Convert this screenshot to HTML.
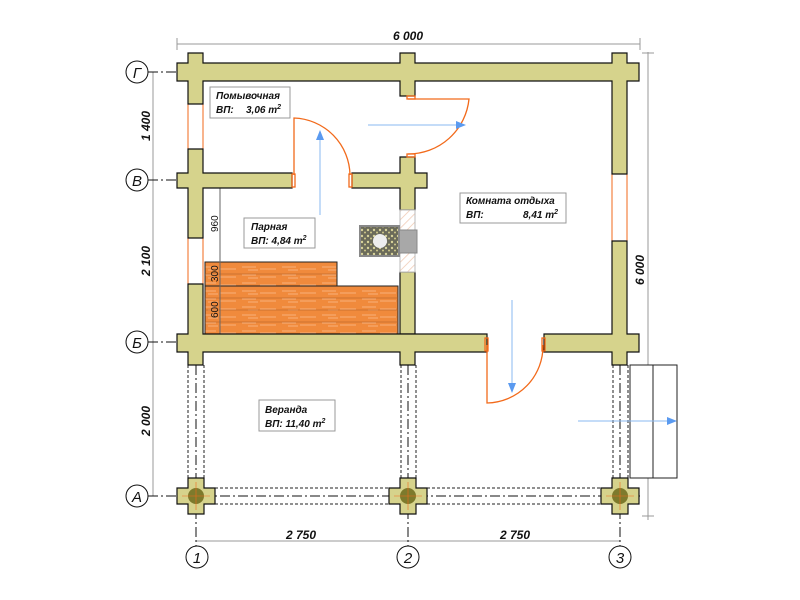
<!DOCTYPE html>
<html><head><meta charset="utf-8"><style>html,body{margin:0;padding:0;background:#fff}svg{display:block}</style></head><body>
<svg width="800" height="600" viewBox="0 0 800 600" xmlns="http://www.w3.org/2000/svg" font-family="Liberation Sans, sans-serif">
<defs>
<pattern id="wood" width="40" height="8" patternUnits="userSpaceOnUse"><rect width="40" height="8" fill="#f08a3c"/><path d="M2 3h14M20 5h16M8 6h10" stroke="#f8b07a" stroke-width="1"/></pattern>
<pattern id="hatch" width="6" height="6" patternUnits="userSpaceOnUse" patternTransform="rotate(45)"><rect width="6" height="6" fill="#fff"/><line x1="0" y1="0" x2="0" y2="6" stroke="#f0c8b0" stroke-width="1.5"/></pattern>
<pattern id="stone" width="6" height="6" patternUnits="userSpaceOnUse"><rect width="6" height="6" fill="#6b6b5a"/><circle cx="2" cy="2" r="1.2" fill="#d8d39a"/><circle cx="5" cy="4.5" r="1" fill="#cfc88a"/></pattern>
</defs>
<!-- dimension lines -->
<g stroke="#999" stroke-width="1" fill="none">
<line x1="177" y1="44" x2="640" y2="44"/><line x1="177" y1="38" x2="177" y2="50"/><line x1="640" y1="38" x2="640" y2="50"/>
<line x1="648" y1="52" x2="648" y2="520"/><line x1="642" y1="53" x2="654" y2="53"/><line x1="642" y1="516" x2="654" y2="516"/>
<line x1="153" y1="72" x2="153" y2="496"/>
<line x1="196" y1="541" x2="620" y2="541"/>
</g>
<g font-style="italic" font-weight="bold" font-size="12" fill="#111" text-anchor="middle">
<text x="408" y="40">6 000</text>
<text transform="translate(644,270) rotate(-90)">6 000</text>
<text transform="translate(150,126) rotate(-90)">1 400</text>
<text transform="translate(150,261) rotate(-90)">2 100</text>
<text transform="translate(150,421) rotate(-90)">2 000</text>
<text x="301" y="539">2 750</text>
<text x="515" y="539">2 750</text>
</g>
<!-- axis leaders -->
<g stroke="#111" stroke-width="1" stroke-dasharray="10,3,2,3">
<line x1="148" y1="72" x2="177" y2="72"/><line x1="148" y1="180" x2="177" y2="180"/><line x1="148" y1="342" x2="177" y2="342"/>
<line x1="148" y1="496" x2="640" y2="496"/>
<line x1="196" y1="365" x2="196" y2="546"/><line x1="408" y1="365" x2="408" y2="546"/><line x1="620" y1="365" x2="620" y2="546"/>
</g>
<g fill="#fff" stroke="#111" stroke-width="1"><circle cx="137" cy="72" r="11"/><circle cx="137" cy="180" r="11"/><circle cx="137" cy="342" r="11"/><circle cx="137" cy="496" r="11"/><circle cx="197" cy="557" r="11"/><circle cx="408" cy="557" r="11"/><circle cx="620" cy="557" r="11"/></g>
<g font-style="italic" font-size="15" fill="#111" text-anchor="middle">
<text x="137" y="78">Г</text><text x="137" y="186">В</text><text x="137" y="348">Б</text><text x="137" y="502">А</text>
<text x="197" y="563">1</text><text x="408" y="563">2</text><text x="620" y="563">3</text>
</g>
<!-- veranda rails -->
<g stroke="#222" stroke-width="1" stroke-dasharray="3,2" fill="none">
<line x1="188" y1="365" x2="188" y2="480"/><line x1="204" y1="365" x2="204" y2="480"/>
<line x1="401" y1="365" x2="401" y2="480"/><line x1="416" y1="365" x2="416" y2="480"/>
<line x1="613" y1="365" x2="613" y2="480"/><line x1="628" y1="365" x2="628" y2="480"/>
<line x1="215" y1="488" x2="390" y2="488"/><line x1="215" y1="504" x2="390" y2="504"/>
<line x1="427" y1="488" x2="602" y2="488"/><line x1="427" y1="504" x2="602" y2="504"/>
</g>
<!-- steps -->
<g stroke="#222" stroke-width="1" fill="#fff"><rect x="630" y="365" width="47" height="113"/><line x1="653" y1="365" x2="653" y2="478"/></g>
<!-- windows -->
<g stroke="#f26a1b" stroke-width="1" fill="#fff">
<rect x="188" y="104" width="15" height="45"/><rect x="188" y="238" width="15" height="46"/><rect x="612" y="174" width="15" height="67"/>
</g>
<!-- benches -->
<g stroke="#222" stroke-width="1">
<rect x="205" y="262" width="132" height="24" fill="url(#wood)"/>
<rect x="205" y="286" width="193" height="48" fill="url(#wood)"/>
<g stroke="#a85a25" stroke-width="0.6"><line x1="205" y1="274" x2="337" y2="274"/><line x1="205" y1="298" x2="398" y2="298"/><line x1="205" y1="310" x2="398" y2="310"/><line x1="205" y1="322" x2="398" y2="322"/></g>
</g>
<line x1="220" y1="188" x2="220" y2="334" stroke="#666" stroke-width="1"/>
<g font-size="10" fill="#111"><text transform="translate(218,232) rotate(-90)">960</text><text transform="translate(218,282) rotate(-90)">300</text><text transform="translate(218,318) rotate(-90)">600</text></g>
<!-- walls -->
<g fill="#d6d38c" stroke="#111" stroke-width="1.2">
<path d="M188 53H203V63H400V53H415V63H612V53H627V63H639V81H627V174H612V81H415V96H400V81H203V104H188V81H177V63H188Z"/>
<path d="M188 149H203V173H292V188H203V238H188V188H177V173H188Z"/>
<path d="M400 157H415V173H427V188H415V210H400V188H352V173H400Z"/>
<rect x="400" y="272" width="15" height="62"/>
<path d="M188 284H203V334H400V334H415V334H487V352H415V365H400V352H203V365H188V352H177V334H188Z"/>
<path d="M612 241H627V334H639V352H627V365H612V352H544V334H612Z"/>
<path d="M188 478H204V488H215V504H204V514H188V504H177V488H188Z"/>
<path d="M400 478H416V488H427V504H416V514H400V504H389V488H400Z"/>
<path d="M612 478H628V488H639V504H628V514H612V504H601V488H612Z"/>
</g>
<g fill="#7d7a2c"><circle cx="196" cy="496" r="8"/><circle cx="408" cy="496" r="8"/><circle cx="620" cy="496" r="8"/></g>
<g stroke="#f26a1b" stroke-width="0.6"><path d="M182 496h28M196 482v28M394 496h28M408 482v28M606 496h28M620 482v28"/></g>
<!-- stove -->
<rect x="400" y="210" width="15" height="62" fill="url(#hatch)" stroke="#bbb"/>
<rect x="399" y="230" width="18" height="23" fill="#a8a8a8" stroke="#888"/>
<rect x="360" y="226" width="39" height="30" fill="url(#stone)" stroke="#888" stroke-width="2"/>
<circle cx="380" cy="241" r="7" fill="#eee"/>
<!-- doors -->
<g stroke="#f26a1b" stroke-width="1.3" fill="none">
<path d="M408 99H469A61 61 0 0 1 408 154"/>
<path d="M294 175V118A58 58 0 0 1 350 175"/>
<path d="M487 345V403A57 57 0 0 0 543 345"/>
<rect x="407" y="96" width="8" height="3"/><rect x="407" y="154" width="8" height="3"/>
<rect x="292" y="174" width="3" height="13"/><rect x="349" y="174" width="3" height="13"/>
<rect x="485" y="338" width="3" height="13"/><rect x="542" y="338" width="3" height="13"/>
</g>
<!-- arrows -->
<g stroke="#8ab8f0" stroke-width="1" fill="#5a9af0">
<line x1="368" y1="125" x2="458" y2="125"/><path d="M466 125l-10-4v8z" stroke="none"/>
<line x1="320" y1="215" x2="320" y2="138"/><path d="M320 130l-4 10h8z" stroke="none"/>
<line x1="512" y1="300" x2="512" y2="385"/><path d="M512 393l-4-10h8z" stroke="none"/>
<line x1="578" y1="421" x2="668" y2="421"/><path d="M677 421l-10-4v8z" stroke="none"/>
</g>
<!-- labels -->
<g fill="#fff" stroke="#999" stroke-width="1">
<rect x="210" y="87" width="80" height="31"/><rect x="244" y="218" width="71" height="30"/><rect x="460" y="193" width="106" height="30"/><rect x="259" y="400" width="76" height="31"/>
</g>
<g font-style="italic" font-weight="bold" font-size="10" fill="#111">
<text x="216" y="99">Помывочная</text><text x="216" y="113">ВП:</text><text x="246" y="113">3,06 m<tspan font-size="7" dy="-4">2</tspan></text>
<text x="251" y="230">Парная</text><text x="251" y="244">ВП: 4,84 m<tspan font-size="7" dy="-4">2</tspan></text>
<text x="466" y="204">Комната отдыха</text><text x="466" y="218">ВП:</text><text x="523" y="218">8,41 m<tspan font-size="7" dy="-4">2</tspan></text>
<text x="265" y="413">Веранда</text><text x="265" y="427">ВП: 11,40 m<tspan font-size="7" dy="-4">2</tspan></text>
</g>
</svg>
</body></html>
